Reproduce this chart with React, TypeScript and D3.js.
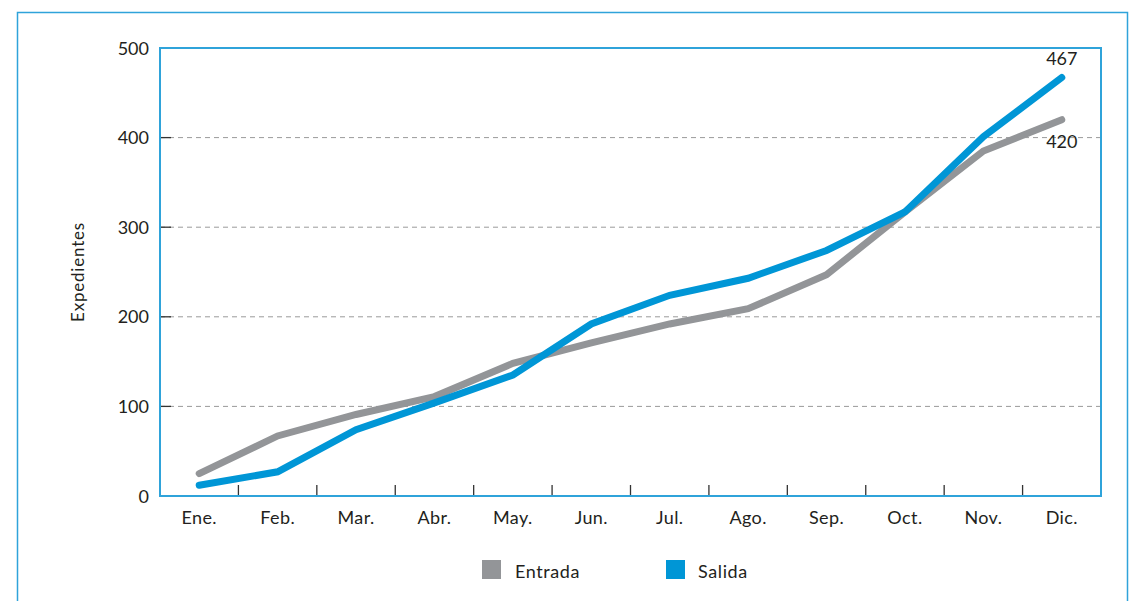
import React from "react";
import * as d3 from "d3";

const months = ["Ene.", "Feb.", "Mar.", "Abr.", "May.", "Jun.", "Jul.", "Ago.", "Sep.", "Oct.", "Nov.", "Dic."];
const entrada = [25, 67, 91, 111, 148, 171, 192, 209, 247, 317, 385, 420];
const salida = [12, 27, 74, 104, 135, 192, 224, 243, 274, 317, 401, 467];
const yTicks = [0, 100, 200, 300, 400, 500];
const seriesNames = ["Entrada", "Salida"];

const W = 1130;
const H = 601;
const left = 160, right = 1101, top = 48, bottom = 496;
const GREY = "#939598";
const BLUE = "#0096d6";
const FRAME = "#2fa3da";
const FONT = "Lato, 'Open Sans', sans-serif";
const TXT = "#231f20";

export default function App() {
  const x = d3.scaleBand<string>().domain(months).range([left, right]);
  const y = d3.scaleLinear().domain([0, 500]).range([bottom, top]);
  const line = d3
    .line<number>()
    .x((_, i) => (x(months[i]) as number) + x.bandwidth() / 2)
    .y((d) => y(d));
  const lastX = (x(months[11]) as number) + x.bandwidth() / 2;

  return (
    <svg width={W} height={H} style={{ position: "absolute", left: 0, top: 0 }} fontFamily={FONT}>
      <rect x={0} y={0} width={W} height={H} fill="#fff" />
      {/* outer frame */}
      <rect x={17.5} y={12.5} width={1110} height={620} fill="none" stroke={FRAME} strokeWidth={1.5} />
      {/* grid */}
      {yTicks.slice(1, 5).map((t) => (
        <g key={t}>
          <line x1={left} x2={right} y1={y(t)} y2={y(t)} stroke="#9a9a9a" strokeWidth={1} strokeDasharray="5,4" />
          <line x1={left} x2={left + 11} y1={y(t)} y2={y(t)} stroke="#333" strokeWidth={1.3} />
        </g>
      ))}
      {/* x ticks at band boundaries */}
      {months.slice(1).map((m) => (
        <line key={m} x1={x(m) as number} x2={x(m) as number} y1={bottom} y2={bottom - 11} stroke="#333" strokeWidth={1.3} />
      ))}
      {/* plot frame */}
      <rect x={left} y={top} width={right - left} height={bottom - top} fill="none" stroke={FRAME} strokeWidth={2} />
      {/* y labels */}
      {yTicks.map((t) => (
        <text key={t} x={left - 11} y={y(t) + 6.5} textAnchor="end" fontSize={18} fill={TXT}>
          {t}
        </text>
      ))}
      {/* x labels */}
      {months.map((m) => (
        <text key={m} x={(x(m) as number) + x.bandwidth() / 2} y={524} textAnchor="middle" fontSize={18} letterSpacing={0.4} fill={TXT}>
          {m}
        </text>
      ))}
      <text transform={`translate(84,${(top + bottom) / 2}) rotate(-90)`} textAnchor="middle" fontSize={17} letterSpacing={0.8} fill={TXT}>
        Expedientes
      </text>
      {/* lines */}
      <path d={line(entrada) || ""} fill="none" stroke={GREY} strokeWidth={7} strokeLinecap="round" strokeLinejoin="miter" />
      <path d={line(salida) || ""} fill="none" stroke={BLUE} strokeWidth={7} strokeLinecap="round" strokeLinejoin="miter" />
      {/* end labels */}
      <text x={lastX} y={y(salida[11]) - 13} textAnchor="middle" fontSize={18} fill={TXT}>
        {salida[11]}
      </text>
      <text x={lastX} y={y(entrada[11]) + 28} textAnchor="middle" fontSize={18} fill={TXT}>
        {entrada[11]}
      </text>
      {/* legend */}
      <rect x={482} y={560} width={19} height={19} fill={GREY} />
      <text x={515} y={578} fontSize={18} letterSpacing={0.6} fill={TXT}>{seriesNames[0]}</text>
      <rect x={666} y={560} width={19} height={19} fill={BLUE} />
      <text x={698} y={578} fontSize={18} letterSpacing={0.6} fill={TXT}>{seriesNames[1]}</text>
    </svg>
  );
}
